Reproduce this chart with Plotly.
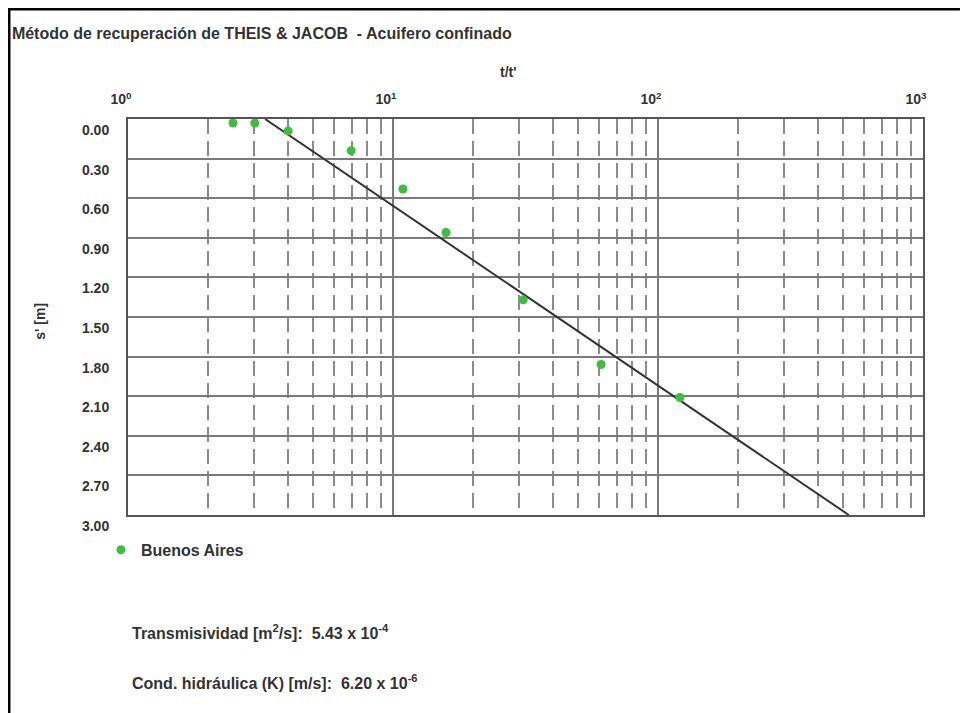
import plotly.graph_objects as go

# Observed recovery data (t/t' vs residual drawdown s')
t_ratio = [2.49, 3.01, 4.02, 6.95, 10.9, 15.85, 31.0, 61.0, 121.0]
s_resid = [0.03, 0.03, 0.09, 0.24, 0.53, 0.86, 1.37, 1.86, 2.11]

# Jacob straight-line fit
fit_t = [3.29, 525.0]
fit_s = [0.0, 3.0]

y_ticks = [0.0, 0.3, 0.6, 0.9, 1.2, 1.5, 1.8, 2.1, 2.4, 2.7, 3.0]
x_ticks = [1, 10, 100, 1000]
x_ticktext = ["10<sup>0</sup>", "10<sup>1</sup>", "10<sup>2</sup>", "10<sup>3</sup>"]
x_minor = [m * d for d in (1, 10, 100) for m in range(2, 10)]

series_name = "Buenos Aires"
title_text = "Método de recuperación de THEIS &amp; JACOB  - Acuifero confinado"
x_title = "t/t'"
y_title = "s' [m]"
result_lines = [
    "Transmisividad [m<sup>2</sup>/s]:  5.43 x 10<sup>-4</sup>",
    "Cond. hidráulica (K) [m/s]:  6.20 x 10<sup>-6</sup>",
]

txt = "#333333"
font_b = "Liberation Sans"


def bold(size):
    return dict(family=font_b, size=size, color=txt, weight="bold")


fig = go.Figure()

fig.add_trace(go.Scatter(
    x=fit_t, y=fit_s, mode="lines",
    line=dict(color="#333333", width=2),
    showlegend=False, hoverinfo="skip",
))

fig.add_trace(go.Scatter(
    x=t_ratio, y=s_resid, mode="markers", name=series_name,
    marker=dict(color="#3cbf3c", size=9),
))

fig.update_xaxes(
    type="log", side="top", range=[0, 3],
    tickvals=x_ticks, ticktext=x_ticktext,
    ticklabelshift=-7, ticklabelstandoff=7,
    tickfont=bold(14),
    showgrid=True, gridcolor="#7a7a7a", gridwidth=1.5,
    minor=dict(tickmode="array", tickvals=x_minor, showgrid=True,
               gridcolor="#8c8c8c", gridwidth=1.5, griddash="15px,7px", ticks=""),
    showline=True, linecolor="#555555", linewidth=2, mirror=True,
    zeroline=False, ticks="",
)

fig.update_yaxes(
    range=[3, 0], tickvals=y_ticks, tickformat=".2f",
    ticklabelshift=-11, ticklabelstandoff=14,
    tickfont=bold(14),
    showgrid=True, gridcolor="#7a7a7a", gridwidth=1.5,
    showline=True, linecolor="#555555", linewidth=2, mirror=True,
    zeroline=False, ticks="",
)

# axis titles
fig.add_annotation(text=x_title, xref="paper", yref="paper", x=0.478, y=1.119,
                   xanchor="center", yanchor="middle", showarrow=False, font=bold(14))
fig.add_annotation(text=y_title, xref="paper", yref="paper", x=-0.111, y=0.49,
                   xanchor="center", yanchor="middle", showarrow=False,
                   textangle=-90, font=bold(14))

for i, line in enumerate(result_lines):
    fig.add_annotation(
        text=line, xref="paper", yref="paper", x=0.003, y=-0.295 - 0.127 * i,
        xanchor="left", yanchor="middle", showarrow=False, font=bold(16),
    )

# outer frame (top and left edges only, as in the source image)
fig.add_shape(type="line", xref="paper", yref="paper",
              x0=-0.152, x1=1.0465, y0=1.278, y1=1.278,
              line=dict(color="black", width=3))
fig.add_shape(type="line", xref="paper", yref="paper",
              x0=-0.1497, x1=-0.1497, y0=1.282, y1=-0.53,
              line=dict(color="black", width=3))

fig.update_layout(
    width=969, height=713,
    margin=dict(l=120, r=54, t=111, b=206),
    paper_bgcolor="white", plot_bgcolor="white",
    title=dict(text=title_text, xref="container", yref="container",
               x=0.004, y=0.965, xanchor="left", yanchor="middle",
               font=bold(16)),
    legend=dict(x=-0.034, y=-0.045, xanchor="left", yanchor="top",
                font=bold(16), bgcolor="rgba(0,0,0,0)", itemwidth=30),
    showlegend=True,
)

fig.write_html("out.html")
